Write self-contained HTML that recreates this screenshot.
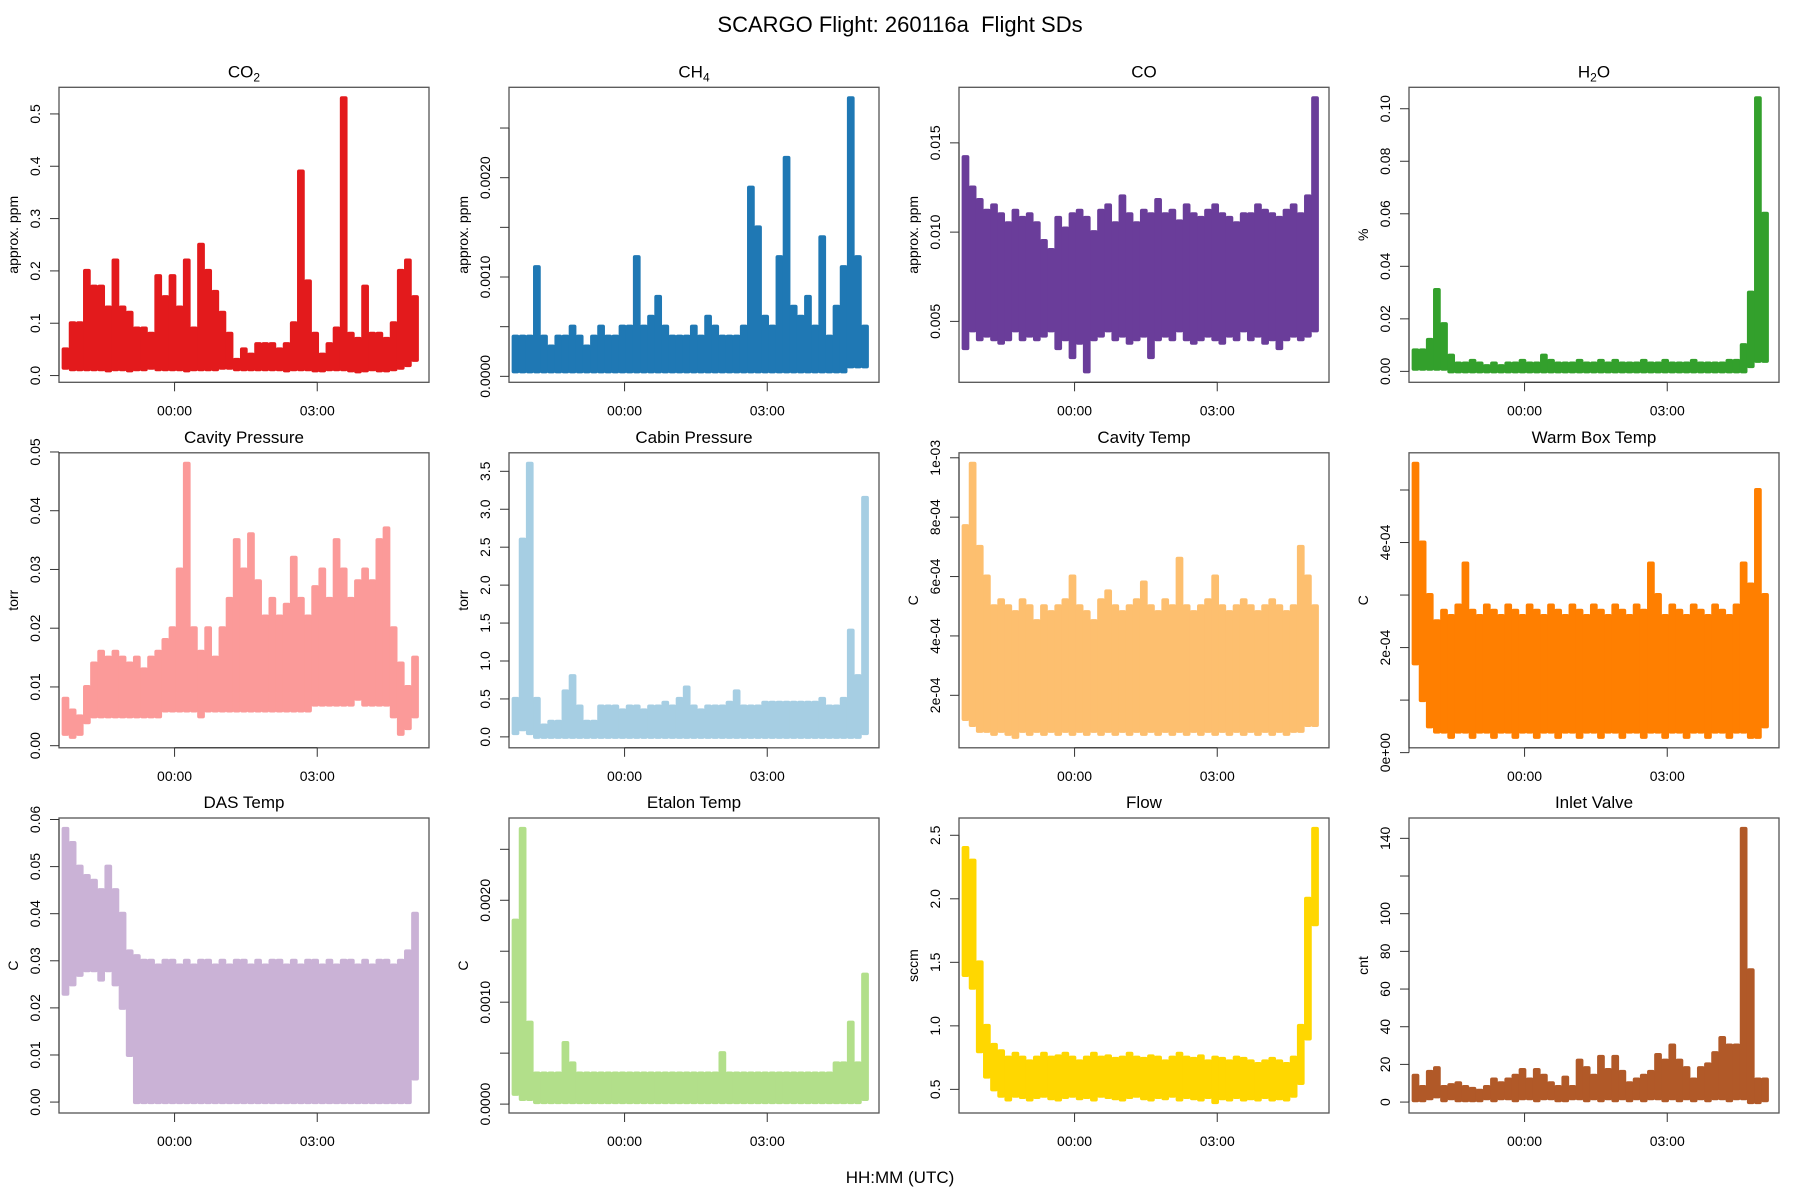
<!DOCTYPE html>
<html><head><meta charset="utf-8"><style>
body{margin:0;background:#fff}
svg{display:block}
text{font-family:"Liberation Sans",sans-serif;fill:#000}
</style></head><body>
<svg id="chart" width="1800" height="1200" viewBox="0 0 1800 1200" xmlns="http://www.w3.org/2000/svg">
<text x="900" y="32" text-anchor="middle" font-size="22">SCARGO Flight: 260116a&#160; Flight SDs</text>
<text x="900" y="1183" text-anchor="middle" font-size="17">HH:MM (UTC)</text>
</svg>
<script>
// time bin centers (hours relative to 00:00 UTC)
const times = [];
for (let i = 0; i < 50; i++) times.push(-2.3 + 0.15 * i);

const titles = ["CO2","CH4","CO","H2O","Cavity Pressure","Cabin Pressure","Cavity Temp","Warm Box Temp","DAS Temp","Etalon Temp","Flow","Inlet Valve"];
const units = ["approx. ppm","approx. ppm","approx. ppm","%","torr","torr","C","C","C","C","sccm","cnt"];
const colors = ["#E31A1C","#1F78B4","#6A3D9A","#33A02C","#FB9A99","#A6CEE3","#FDBF6F","#FF7F00","#CAB2D6","#B2DF8A","#FFD700","#B15928"];

const co2Hi = [0.05,0.10,0.10,0.20,0.17,0.17,0.13,0.22,0.13,0.12,0.09,0.09,0.08,0.19,0.15,0.19,0.13,0.22,0.09,0.25,0.20,0.16,0.12,0.08,0.03,0.05,0.04,0.06,0.06,0.06,0.05,0.06,0.10,0.39,0.18,0.08,0.04,0.06,0.09,0.53,0.08,0.07,0.17,0.08,0.08,0.07,0.10,0.20,0.22,0.15];
const co2Lo = [0.015,0.012,0.012,0.012,0.012,0.012,0.01,0.012,0.012,0.01,0.012,0.012,0.015,0.012,0.012,0.012,0.012,0.01,0.012,0.012,0.012,0.012,0.015,0.015,0.012,0.012,0.012,0.012,0.012,0.012,0.012,0.01,0.012,0.012,0.012,0.01,0.01,0.012,0.012,0.012,0.01,0.008,0.01,0.012,0.01,0.01,0.012,0.015,0.02,0.03];
const ch4Hi = [0.0004,0.0004,0.0004,0.0011,0.0004,0.0003,0.0004,0.0004,0.0005,0.0004,0.0003,0.0004,0.0005,0.0004,0.0004,0.0005,0.0005,0.0012,0.0005,0.0006,0.0008,0.0005,0.0004,0.0004,0.0004,0.0005,0.0004,0.0006,0.0005,0.0004,0.0004,0.0004,0.0005,0.0019,0.0015,0.0006,0.0005,0.0012,0.0022,0.0007,0.0006,0.0008,0.0005,0.0014,0.0004,0.0007,0.0011,0.0028,0.0012,0.0005];
const ch4Lo = [0.00005,0.00005,0.00005,0.00005,0.00005,0.00005,0.00005,0.00005,0.00005,0.00005,0.00005,0.00005,0.00005,0.00005,0.00005,0.00005,0.00005,0.00005,0.00005,0.00005,0.00005,0.00005,0.00005,0.00005,0.00005,0.00005,0.00005,0.00005,0.00005,0.00005,0.00005,0.00005,0.00005,0.00005,0.00005,0.00005,0.00005,0.00005,0.00005,0.00005,0.00005,0.00005,0.00005,0.00005,0.00005,0.00005,0.00005,0.0001,0.0001,0.0001];
const coHi = [0.0142,0.0125,0.0118,0.0112,0.0115,0.0110,0.0105,0.0112,0.0108,0.0110,0.0105,0.0095,0.0090,0.0108,0.0102,0.0110,0.0112,0.0108,0.0100,0.0112,0.0115,0.0105,0.0120,0.0110,0.0105,0.0112,0.0110,0.0118,0.0110,0.0112,0.0106,0.0115,0.0110,0.0108,0.0112,0.0115,0.0110,0.0108,0.0105,0.0110,0.0110,0.0115,0.0112,0.0110,0.0108,0.0112,0.0115,0.0110,0.0120,0.0175];
const coLo = [0.0035,0.0045,0.0040,0.0042,0.0040,0.0038,0.0040,0.0045,0.0040,0.0042,0.0040,0.0042,0.0045,0.0035,0.0040,0.0030,0.0038,0.0022,0.0040,0.0042,0.0045,0.0040,0.0042,0.0038,0.0040,0.0042,0.0030,0.0040,0.0042,0.0040,0.0045,0.0040,0.0038,0.0040,0.0042,0.0040,0.0038,0.0042,0.0040,0.0045,0.0040,0.0042,0.0038,0.0040,0.0035,0.0040,0.0042,0.0040,0.0042,0.0045];
const h2oHi = [0.008,0.008,0.012,0.031,0.018,0.006,0.003,0.003,0.004,0.003,0.002,0.003,0.002,0.003,0.003,0.004,0.003,0.003,0.006,0.004,0.003,0.003,0.003,0.004,0.003,0.003,0.004,0.003,0.004,0.003,0.003,0.003,0.004,0.003,0.003,0.004,0.003,0.003,0.003,0.004,0.003,0.003,0.003,0.003,0.004,0.004,0.01,0.03,0.104,0.06];
const h2oLo = [0.001,0.001,0.001,0.001,0.001,0,0,0,0,0,0,0,0,0,0,0,0,0,0,0,0,0,0,0,0,0,0,0,0,0,0,0,0,0,0,0,0,0,0,0,0,0,0,0,0,0,0,0.002,0.004,0.004];
const cavPHi = [0.008,0.006,0.005,0.010,0.014,0.016,0.015,0.016,0.015,0.014,0.015,0.013,0.015,0.016,0.018,0.020,0.030,0.048,0.020,0.016,0.020,0.015,0.020,0.025,0.035,0.030,0.036,0.028,0.022,0.025,0.022,0.024,0.032,0.025,0.022,0.027,0.030,0.025,0.035,0.030,0.025,0.028,0.030,0.028,0.035,0.037,0.020,0.014,0.010,0.015];
const cavPLo = [0.002,0.0015,0.002,0.004,0.005,0.005,0.005,0.005,0.005,0.005,0.005,0.005,0.005,0.005,0.006,0.006,0.006,0.006,0.006,0.005,0.006,0.006,0.006,0.006,0.006,0.006,0.006,0.006,0.006,0.006,0.006,0.006,0.006,0.006,0.006,0.007,0.007,0.007,0.007,0.007,0.007,0.008,0.007,0.007,0.007,0.007,0.005,0.002,0.003,0.005];
const cabHi = [0.5,2.6,3.6,0.5,0.15,0.2,0.2,0.6,0.8,0.4,0.2,0.2,0.4,0.4,0.4,0.35,0.4,0.4,0.35,0.4,0.4,0.45,0.4,0.5,0.65,0.4,0.35,0.4,0.4,0.4,0.45,0.6,0.4,0.4,0.4,0.45,0.45,0.45,0.45,0.45,0.45,0.45,0.45,0.5,0.4,0.4,0.5,1.4,0.8,3.15];
const cabLo = [0.05,0.1,0.05,0,0,0,0,0,0,0,0,0,0,0,0,0,0,0,0,0,0,0,0,0,0,0,0,0,0,0,0,0,0,0,0,0,0,0,0,0,0,0,0,0,0,0,0,0,0,0.05];
const cavTHi = [0.00077,0.00098,0.0007,0.0006,0.0005,0.00052,0.0005,0.00048,0.00052,0.0005,0.00045,0.0005,0.00048,0.0005,0.00052,0.0006,0.0005,0.00048,0.00045,0.00052,0.00055,0.0005,0.00048,0.0005,0.00052,0.00058,0.0005,0.00048,0.00052,0.0005,0.00066,0.0005,0.00048,0.0005,0.00052,0.0006,0.0005,0.00048,0.0005,0.00052,0.0005,0.00048,0.0005,0.00052,0.0005,0.00048,0.0005,0.0007,0.0006,0.0005];
const cavTLo = [0.00012,0.0001,0.00008,0.00008,0.00007,0.00008,0.00007,0.00006,0.00008,0.00007,0.00008,0.00007,0.00008,0.00007,0.00008,0.00007,0.00008,0.00007,0.00008,0.00007,0.00008,0.00007,0.00008,0.00007,0.00008,0.00007,0.00008,0.00007,0.00008,0.00007,0.00008,0.00007,0.00008,0.00007,0.00008,0.00007,0.00008,0.00007,0.00008,0.00007,0.00008,0.00007,0.00008,0.00007,0.00008,0.00007,0.00008,0.00008,0.0001,0.0001];
const wbHi = [0.00055,0.0004,0.0003,0.00025,0.00027,0.00026,0.00028,0.00036,0.00027,0.00026,0.00028,0.00027,0.00026,0.00028,0.00027,0.00026,0.00028,0.00027,0.00026,0.00028,0.00027,0.00026,0.00028,0.00027,0.00026,0.00028,0.00027,0.00026,0.00028,0.00027,0.00026,0.00028,0.00027,0.00036,0.0003,0.00026,0.00028,0.00027,0.00026,0.00028,0.00027,0.00026,0.00028,0.00027,0.00026,0.00028,0.00036,0.00032,0.0005,0.0003];
const wbLo = [0.00017,0.0001,0.00005,0.00004,0.00004,0.00003,0.00004,0.00004,0.00003,0.00004,0.00004,0.00003,0.00004,0.00004,0.00003,0.00004,0.00004,0.00003,0.00004,0.00004,0.00003,0.00004,0.00004,0.00003,0.00004,0.00004,0.00003,0.00004,0.00004,0.00003,0.00004,0.00004,0.00003,0.00004,0.00004,0.00003,0.00004,0.00004,0.00003,0.00004,0.00004,0.00003,0.00004,0.00004,0.00003,0.00004,0.00004,0.00003,0.00003,0.00005];
const dasHi = [0.058,0.055,0.050,0.048,0.047,0.045,0.050,0.045,0.040,0.032,0.031,0.030,0.030,0.029,0.030,0.030,0.029,0.030,0.029,0.030,0.030,0.029,0.030,0.029,0.030,0.030,0.029,0.030,0.029,0.030,0.030,0.029,0.030,0.029,0.030,0.030,0.029,0.030,0.029,0.030,0.030,0.029,0.030,0.029,0.030,0.030,0.029,0.030,0.032,0.040];
const dasLo = [0.023,0.025,0.027,0.028,0.028,0.026,0.028,0.025,0.020,0.010,0,0,0,0,0,0,0,0,0,0,0,0,0,0,0,0,0,0,0,0,0,0,0,0,0,0,0,0,0,0,0,0,0,0,0,0,0,0,0,0.005];
const etHi = [0.0018,0.0027,0.0008,0.0003,0.0003,0.0003,0.0003,0.0006,0.0004,0.0003,0.0003,0.0003,0.0003,0.0003,0.0003,0.0003,0.0003,0.0003,0.0003,0.0003,0.0003,0.0003,0.0003,0.0003,0.0003,0.0003,0.0003,0.0003,0.0003,0.0005,0.0003,0.0003,0.0003,0.0003,0.0003,0.0003,0.0003,0.0003,0.0003,0.0003,0.0003,0.0003,0.0003,0.0003,0.0003,0.0004,0.0004,0.0008,0.0004,0.00127];
const etLo = [0.0001,0.00005,0.00005,0.00002,0.00002,0.00002,0.00002,0.00002,0.00002,0.00002,0.00002,0.00002,0.00002,0.00002,0.00002,0.00002,0.00002,0.00002,0.00002,0.00002,0.00002,0.00002,0.00002,0.00002,0.00002,0.00002,0.00002,0.00002,0.00002,0.00002,0.00002,0.00002,0.00002,0.00002,0.00002,0.00002,0.00002,0.00002,0.00002,0.00002,0.00002,0.00002,0.00002,0.00002,0.00002,0.00002,0.00002,0.00002,0.00002,0.00005];
const flowHi = [2.4,2.3,1.5,1.0,0.85,0.8,0.75,0.78,0.75,0.72,0.75,0.78,0.75,0.76,0.78,0.75,0.72,0.75,0.78,0.75,0.76,0.74,0.75,0.78,0.75,0.74,0.76,0.75,0.72,0.75,0.78,0.75,0.74,0.76,0.72,0.75,0.74,0.72,0.75,0.74,0.72,0.7,0.72,0.74,0.72,0.7,0.75,1.0,2.0,2.55];
const flowLo = [1.4,1.3,0.8,0.6,0.5,0.45,0.42,0.45,0.44,0.42,0.44,0.45,0.43,0.42,0.44,0.45,0.43,0.44,0.42,0.45,0.44,0.43,0.42,0.44,0.45,0.43,0.42,0.44,0.43,0.45,0.42,0.44,0.43,0.42,0.44,0.4,0.43,0.42,0.44,0.42,0.43,0.42,0.44,0.42,0.43,0.42,0.45,0.55,0.9,1.8];
const inletHi = [14,8,16,18,8,9,10,8,7,6,8,12,10,12,14,17,12,17,14,10,8,13,8,22,18,14,24,17,24,16,10,12,14,16,25,22,30,22,18,12,18,20,26,34,30,30,145,70,12,12];
const inletLo = [1,1,2,3,1,2,1,1,1,1,2,1,2,2,1,2,2,1,2,2,1,1,2,2,1,2,1,2,1,2,1,2,1,2,2,1,2,1,2,1,2,1,2,2,1,2,2,0,0,1];

const hiSeries = [co2Hi,ch4Hi,coHi,h2oHi,cavPHi,cabHi,cavTHi,wbHi,dasHi,etHi,flowHi,inletHi];
const loSeries = [co2Lo,ch4Lo,coLo,h2oLo,cavPLo,cabLo,cavTLo,wbLo,dasLo,etLo,flowLo,inletLo];

const yTicks = [
 [0,0.1,0.2,0.3,0.4,0.5],
 [0,0.0005,0.001,0.0015,0.002,0.0025],
 [0.005,0.01,0.015],
 [0,0.02,0.04,0.06,0.08,0.1],
 [0,0.01,0.02,0.03,0.04,0.05],
 [0,0.5,1,1.5,2,2.5,3,3.5],
 [0.0002,0.0004,0.0006,0.0008,0.001],
 [0,0.0001,0.0002,0.0003,0.0004,0.0005],
 [0,0.01,0.02,0.03,0.04,0.05,0.06],
 [0,0.0005,0.001,0.0015,0.002,0.0025],
 [0.5,1,1.5,2,2.5],
 [0,20,40,60,80,100,120,140]
];
const yTickLabels = [
 ["0.0","0.1","0.2","0.3","0.4","0.5"],
 ["0.0000","","0.0010","","0.0020",""],
 ["0.005","0.010","0.015"],
 ["0.00","0.02","0.04","0.06","0.08","0.10"],
 ["0.00","0.01","0.02","0.03","0.04","0.05"],
 ["0.0","0.5","1.0","1.5","2.0","2.5","3.0","3.5"],
 ["2e-04","4e-04","6e-04","8e-04","1e-03"],
 ["0e+00","","2e-04","","4e-04",""],
 ["0.00","0.01","0.02","0.03","0.04","0.05","0.06"],
 ["0.0000","","0.0010","","0.0020",""],
 ["0.5","1.0","1.5","2.0","2.5"],
 ["0","20","40","60","80","100","","140"]
];
const xTicks = [0,3];
const xTickLabels = ["00:00","03:00"];

const NS = "http://www.w3.org/2000/svg";
const svg = document.getElementById("chart");
function mk(tag, attrs, parent){
  const e = document.createElementNS(NS, tag);
  for (const k in attrs) e.setAttribute(k, attrs[k]);
  (parent||svg).appendChild(e);
  return e;
}
const colLeft = [59,509,959,1409], rowTop = [87.3,452.8,818], W = 370, H = 295;
const T0 = -2.43, T1 = 5.35;

for (let p = 0; p < 12; p++) {
  const L = colLeft[p % 4], T = rowTop[Math.floor(p / 4)];
  const hi = hiSeries[p], lo = loSeries[p];
  const dmin = Math.min(...lo), dmax = Math.max(...hi);
  const r = dmax - dmin;
  const y0 = dmin - 0.04 * r, y1 = dmax + 0.04 * r;
  const xs = t => L + (t - T0) / (T1 - T0) * W;
  const ys = v => T + H - (v - y0) / (y1 - y0) * H;

  const g = mk("g", {});
  
  

  const tt = mk("text", {x: L + W/2, y: T - 10, "text-anchor":"middle", "font-size": 17}, g);
  
  
  const m = titles[p].match(/^(CO|CH|H)(\d)(O?)$/);
  if (m) {
    tt.appendChild(document.createTextNode(m[1]));
    const s = mk("tspan", {"font-size": 12, dy: 4}, tt); s.textContent = m[2];
    if (m[3]) { const s2 = mk("tspan", {dy: -4}, tt); s2.textContent = m[3]; }
  } else tt.textContent = titles[p];

  const bw = 0.15 / (T1 - T0) * W;
  for (let i = 0; i < times.length; i++) {
    const x = xs(times[i]);
    const yt = ys(hi[i]), yb = ys(lo[i]);
    const rc = mk("rect", {x: x - bw/2, y: yt - 2, width: bw + 0.6, height: Math.max(yb - yt + 4, 4), fill: colors[p], rx: 2}, g);
    
    
  }

  const bx = mk("rect", {x: L, y: T, width: W, height: H, fill: "none", stroke: "#555", "stroke-width": 1.3}, g);
  
  

  const yt = yTicks[p];
  const ya = mk("line", {x1: L, x2: L, y1: ys(yt[0]), y2: ys(yt[yt.length-1]), stroke: "#333", "stroke-width": 1}, g);
  
  
  for (let k = 0; k < yt.length; k++) {
    const y = ys(yt[k]);
    mk("line", {x1: L - 9, x2: L, y1: y, y2: y, stroke: "#333", "stroke-width": 1}, g);
    if (yTickLabels[p][k]) {
      const lb = mk("text", {x: L - 24, y: y, "text-anchor":"middle", "font-size": 14, transform: `rotate(-90 ${L-24} ${y})`, dy: "0.35em"}, g);
      
      
      lb.textContent = yTickLabels[p][k];
    }
  }
  const yl = mk("text", {x: L - 46, y: T + H/2, "text-anchor":"middle", "font-size": 14, transform: `rotate(-90 ${L-46} ${T+H/2})`, dy: "0.35em"}, g);
  
  
  yl.textContent = units[p];

  const xa = mk("line", {x1: xs(xTicks[0]), x2: xs(xTicks[1]), y1: T + H, y2: T + H, stroke: "#333", "stroke-width": 1}, g);
  
  
  for (let k = 0; k < xTicks.length; k++) {
    const x = xs(xTicks[k]);
    mk("line", {x1: x, x2: x, y1: T + H, y2: T + H + 9, stroke: "#333", "stroke-width": 1}, g);
    const lb = mk("text", {x: x, y: T + H + 33, "text-anchor":"middle", "font-size": 14}, g);
    
    
    lb.textContent = xTickLabels[k];
  }
}
</script>
</body></html>
